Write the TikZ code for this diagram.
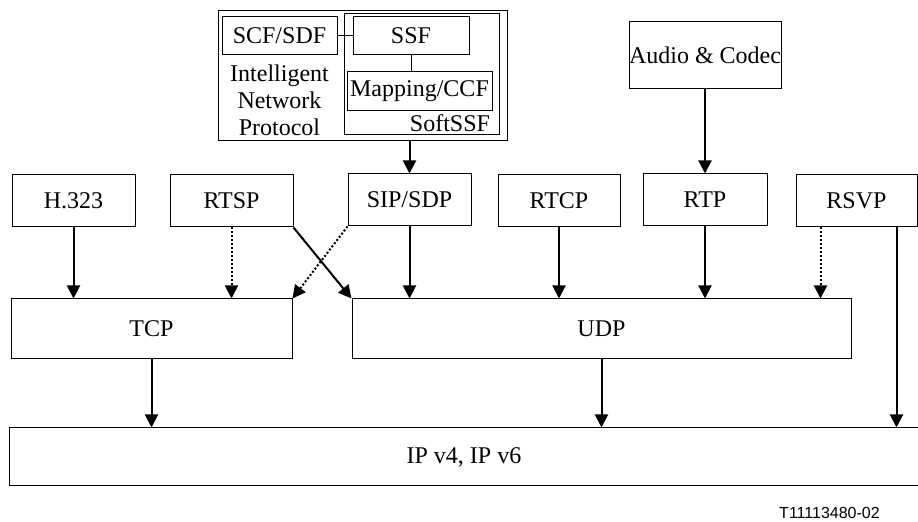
\documentclass[tikz,border=0pt]{standalone}
\usepackage{fontspec}
\setmainfont{Liberation Serif}
\newfontfamily\figfont{Liberation Sans}
\usetikzlibrary{arrows.meta}

\begin{document}
\begin{tikzpicture}[x=0.5pt,y=0.5pt]
\tikzstyle{every node}+=[inner sep=0pt,font=\fontsize{12}{13.5}\selectfont]
\tikzstyle{box}=[draw=black,line width=0.5pt,minimum height=26pt]
\tikzstyle{arr}=[black,line width=1pt,-{Triangle[length=6.5pt,width=6.5pt]}]
\tikzstyle{dotarr}=[arr,dash pattern=on 1pt off 1pt]
\useasboundingbox (0,0) rectangle (918,-522);
\node [box,minimum width=144.5pt,minimum height=65pt] (inp) at (362.5,-76) {};
\node [box,minimum width=77.5pt,minimum height=60.5pt] (softssf) at (421.5,-74.5) {};
\node [box,minimum width=57.5pt,minimum height=19pt] (scf) at (279.5,-36) {SCF/SDF};
\node [box,minimum width=58pt,minimum height=19pt] (ssf) at (411,-36) {SSF};
\node [box,minimum width=72.5pt,minimum height=19.5pt] (map) at (419.5,-91.5) {Mapping/CCF};
\node [align=center] (inptext) at (279.5,-100) {Intelligent\\Network\\Protocol};
\node (softtext) at (450,-123) {SoftSSF};
\node [box,minimum width=76pt,minimum height=33.5pt] (audio) at (705,-55.5) {Audio \& Codec};
\node [box,minimum width=61.5pt] (h323) at (73.5,-201) {H.323};
\node [box,minimum width=61.5pt] (rtsp) at (231.5,-201) {RTSP};
\node [box,minimum width=61.5pt] (sip) at (409.5,-200) {SIP/SDP};
\node [box,minimum width=61pt] (rtcp) at (559,-201) {RTCP};
\node [box,minimum width=62pt] (rtp) at (705,-200) {RTP};
\node [box,minimum width=60.5pt] (rsvp) at (856.5,-201) {RSVP};
\node [box,minimum width=140.5pt,minimum height=30pt] (tcp) at (151.5,-329) {TCP};
\node [box,minimum width=249.5pt,minimum height=30pt] (udp) at (601.5,-329) {UDP};
\node [box,minimum width=455pt,minimum height=29pt] (ip) at (464,-457) {IP v4, IP v6};
\node [font=\figfont\fontsize{8}{9}\selectfont] (fig) at (829.5,-513) {T11113480-02};
\coordinate (rsvpdot) at ([xshift=12.5pt]rsvp.south west);
\coordinate (rsvpout) at ([xshift=-10.5pt]rsvp.south east);
\draw [black,line width=0.5pt] (scf.east) -- (ssf.west);
\draw [black,line width=0.5pt] (ssf.south) -- (ssf.south |- map.north);
\draw [arr] (sip.north |- inp.south) -- (sip.north);
\draw [arr] (audio.south) -- (rtp.north);
\draw [arr] (h323.south) -- (h323.south |- tcp.north);
\draw [dotarr] (rtsp.south) -- (rtsp.south |- tcp.north);
\draw [arr] (rtsp.south east) -- (udp.north west);
\draw [dotarr] (sip.south west) -- (tcp.north east);
\draw [arr] (sip.south) -- (sip.south |- udp.north);
\draw [arr] (rtcp.south) -- (rtcp.south |- udp.north);
\draw [arr] (rtp.south) -- (rtp.south |- udp.north);
\draw [dotarr] (rsvpdot) -- (rsvpdot |- udp.north);
\draw [arr] (rsvpout) -- (rsvpout |- ip.north);
\draw [arr] (tcp.south) -- (tcp.south |- ip.north);
\draw [arr] (udp.south) -- (udp.south |- ip.north);
\end{tikzpicture}
\end{document}
